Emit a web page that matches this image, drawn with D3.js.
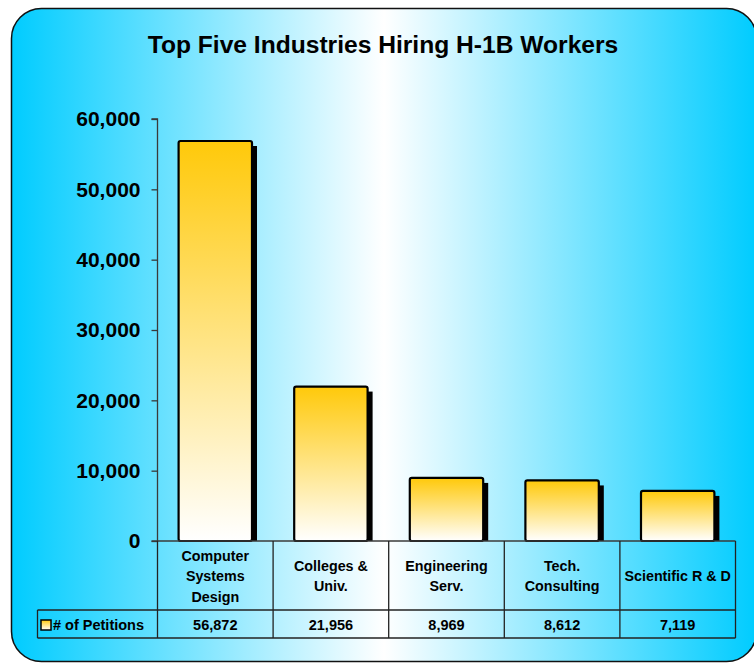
<!DOCTYPE html>
<html>
<head>
<meta charset="utf-8">
<script src="https://cdn.jsdelivr.net/npm/d3@7/dist/d3.min.js"></script>
<style>
  html, body { margin: 0; padding: 0; background: #ffffff; }
  svg { display: block; font-family: "Liberation Sans", Arial, sans-serif; }
</style>
</head>
<body>
<svg id="chart" width="754" height="664"></svg>
<script>
// Industry names (one entry per label line) and petition counts
const categories = [
  ["Computer", "Systems", "Design"],
  ["Colleges &", "Univ."],
  ["Engineering", "Serv."],
  ["Tech.", "Consulting"],
  ["Scientific R & D"]
];
const petitions = [56872, 21956, 8969, 8612, 7119];
const yTicks = [0, 10000, 20000, 30000, 40000, 50000, 60000];
const seriesName = "# of Petitions";
const chartTitle = "Top Five Industries Hiring H-1B Workers";

const svg = d3.select("#chart");
const defs = svg.append("defs");

// Background: cyan at both edges fading to white in the middle
const bg = defs.append("linearGradient").attr("id", "bgGrad")
  .attr("x1", "0%").attr("x2", "100%").attr("y1", "0%").attr("y2", "0%");
bg.append("stop").attr("offset", "0%").attr("stop-color", "#00ccff");
bg.append("stop").attr("offset", "50%").attr("stop-color", "#ffffff");
bg.append("stop").attr("offset", "100%").attr("stop-color", "#00ccff");

// Bar fill: gold at the top to white at the bottom
const barGrad = defs.append("linearGradient").attr("id", "barGrad")
  .attr("x1", "0%").attr("x2", "0%").attr("y1", "0%").attr("y2", "100%");
barGrad.append("stop").attr("offset", "0%").attr("stop-color", "#ffc90a");
barGrad.append("stop").attr("offset", "100%").attr("stop-color", "#ffffff");

svg.append("rect")
  .attr("x", 11.5).attr("y", 8.5)
  .attr("width", 745).attr("height", 653)
  .attr("rx", 30).attr("ry", 30)
  .attr("fill", "url(#bgGrad)")
  .attr("stroke", "#111").attr("stroke-width", 1.5);

svg.append("text")
  .attr("x", 383).attr("y", 53)
  .attr("text-anchor", "middle")
  .attr("font-size", 24.6).attr("font-weight", "bold")
  .attr("fill", "#000")
  .text(chartTitle);

// Scales
const plotLeft = 157.5, plotRight = 735.5;
const y = d3.scaleLinear().domain([0, 60000]).range([541, 119]);
const x = d3.scaleBand().domain(d3.range(categories.length))
  .range([plotLeft, plotRight]).padding(0);
const barW = x.bandwidth() * 0.635;

// Y axis
const yAxis = svg.append("g")
  .attr("transform", `translate(${plotLeft},0)`)
  .call(d3.axisLeft(y).tickValues(yTicks).tickFormat(d3.format(",")).tickSize(6).tickPadding(11));
yAxis.select(".domain").attr("stroke", "#3a3a3a").attr("stroke-width", 1.3)
  .attr("d", `M-6,${y(60000)}H0V${y(0)}`);
yAxis.selectAll(".tick line").attr("stroke", "#3a3a3a").attr("stroke-width", 1.3);
yAxis.selectAll(".tick text")
  .attr("font-size", 21).attr("font-weight", "bold")
  .attr("fill", "#000").attr("font-family", "Liberation Sans, Arial, sans-serif");

// Bars with drop shadows
const bars = svg.append("g").selectAll("g").data(petitions).join("g");
bars.append("rect")
  .attr("x", (d, i) => x(i) + (x.bandwidth() - barW) / 2 + 5)
  .attr("y", d => y(d) + 5)
  .attr("width", barW)
  .attr("height", d => y(0) - y(d) - 5)
  .attr("fill", "#000");
bars.append("rect")
  .attr("x", (d, i) => x(i) + (x.bandwidth() - barW) / 2)
  .attr("y", d => y(d))
  .attr("width", barW)
  .attr("height", d => y(0) - y(d))
  .attr("rx", 2)
  .attr("fill", "url(#barGrad)")
  .attr("stroke", "#000").attr("stroke-width", 2.2);

// Data table under the plot
const rowTop = 541, rowMid = 610, rowBot = 638, legendLeft = 37.5;
const grid = svg.append("g").attr("stroke", "#222").attr("stroke-width", 1.3).attr("fill", "none");
grid.append("line").attr("x1", plotLeft - 6).attr("x2", plotRight).attr("y1", rowTop).attr("y2", rowTop)
  .attr("stroke", "#3a3a3a");
grid.append("line").attr("x1", legendLeft).attr("x2", plotRight).attr("y1", rowMid).attr("y2", rowMid);
grid.append("line").attr("x1", legendLeft).attr("x2", plotRight).attr("y1", rowBot).attr("y2", rowBot);
grid.append("line").attr("x1", legendLeft).attr("x2", legendLeft).attr("y1", rowMid).attr("y2", rowBot);
grid.selectAll(".col").data(d3.range(categories.length + 1)).join("line")
  .attr("x1", i => i < categories.length ? x(i) : plotRight)
  .attr("x2", i => i < categories.length ? x(i) : plotRight)
  .attr("y1", rowTop).attr("y2", rowBot);

// Category labels
const lineH = 20.5;
svg.append("g").selectAll("text").data(categories).join("text")
  .attr("text-anchor", "middle")
  .attr("font-size", 14.3).attr("font-weight", "bold").attr("fill", "#000")
  .each(function (lines, i) {
    const t = d3.select(this);
    const cx = x(i) + x.bandwidth() / 2;
    const y0 = 576 - (lines.length - 1) * lineH / 2;
    lines.forEach((ln, k) => {
      t.append("tspan").attr("x", cx).attr("y", y0 + k * lineH).attr("dy", "0.35em").text(ln);
    });
  });

// Value row
svg.append("g").selectAll("text").data(petitions).join("text")
  .attr("x", (d, i) => x(i) + x.bandwidth() / 2)
  .attr("y", 624.5).attr("dy", "0.35em")
  .attr("text-anchor", "middle")
  .attr("font-size", 14.5).attr("font-weight", "bold").attr("fill", "#000")
  .text(d => d3.format(",")(d));

// Legend key and series name
svg.append("rect")
  .attr("x", 41).attr("y", 620).attr("width", 10).attr("height", 10)
  .attr("fill", "url(#barGrad)").attr("stroke", "#000").attr("stroke-width", 1.5);
svg.append("text")
  .attr("x", 53).attr("y", 624.5).attr("dy", "0.35em")
  .attr("font-size", 14.5).attr("font-weight", "bold").attr("fill", "#000")
  .text(seriesName);
</script>
</body>
</html>
